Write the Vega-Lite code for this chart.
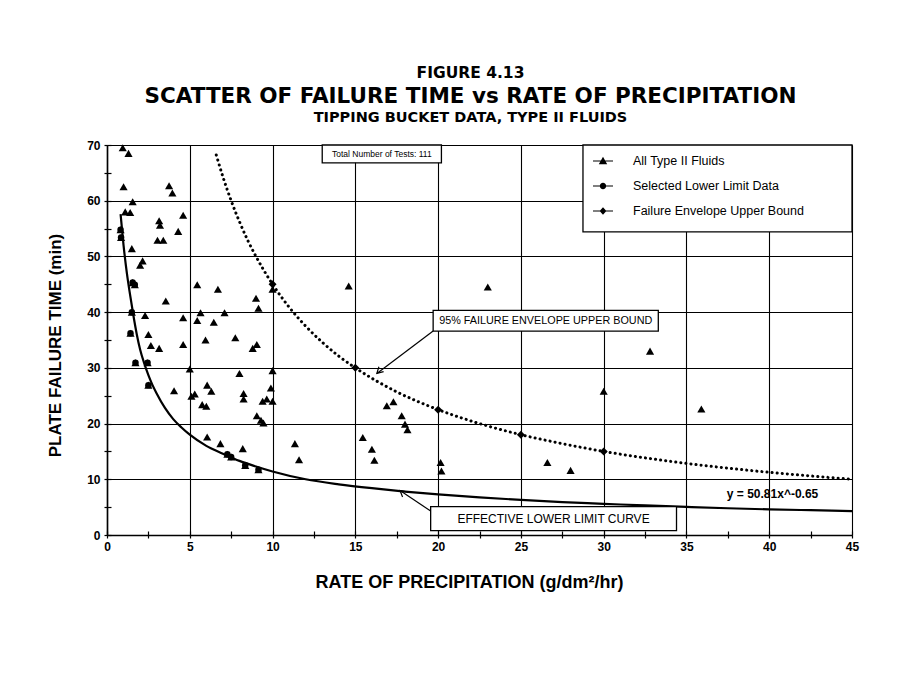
{
  "$schema": "https://vega.github.io/schema/vega-lite/v6.json",
  "width": 745,
  "height": 390,
  "autosize": "none",
  "padding": {"left": 107, "top": 145, "right": 53, "bottom": 161},
  "background": "white",
  "config": {"view": {"stroke": null}, "font": "Liberation Sans"},
  "title": {
    "text": "FIGURE 4.13",
    "subtitle": "SCATTER OF FAILURE TIME vs RATE OF PRECIPITATION",
    "anchor": "middle",
    "font": "DejaVu Sans",
    "fontSize": 15.5,
    "fontWeight": "bold",
    "color": "black",
    "subtitleFont": "DejaVu Sans",
    "subtitleFontSize": 21.5,
    "subtitleFontWeight": "bold",
    "subtitleColor": "black",
    "subtitlePadding": 4,
    "offset": 2,
    "dx": -9
  },
  "datasets": {
    "pts": [
      {"series": "All Type II Fluids", "x": 0.95, "y": 69.5},
      {"series": "All Type II Fluids", "x": 1.3, "y": 68.5},
      {"series": "All Type II Fluids", "x": 1.0, "y": 62.5},
      {"series": "All Type II Fluids", "x": 3.75, "y": 62.7},
      {"series": "All Type II Fluids", "x": 3.95, "y": 61.4},
      {"series": "All Type II Fluids", "x": 1.55, "y": 59.8},
      {"series": "All Type II Fluids", "x": 1.1, "y": 58.0},
      {"series": "All Type II Fluids", "x": 1.4, "y": 57.9},
      {"series": "All Type II Fluids", "x": 3.15, "y": 56.4},
      {"series": "All Type II Fluids", "x": 3.2, "y": 55.6},
      {"series": "All Type II Fluids", "x": 4.6, "y": 57.4},
      {"series": "All Type II Fluids", "x": 4.3, "y": 54.5},
      {"series": "All Type II Fluids", "x": 3.05, "y": 52.9},
      {"series": "All Type II Fluids", "x": 3.4, "y": 52.9},
      {"series": "All Type II Fluids", "x": 1.5, "y": 51.4},
      {"series": "All Type II Fluids", "x": 2.15, "y": 49.2},
      {"series": "All Type II Fluids", "x": 2.0, "y": 48.4},
      {"series": "All Type II Fluids", "x": 3.55, "y": 42.0},
      {"series": "All Type II Fluids", "x": 5.45, "y": 44.9},
      {"series": "All Type II Fluids", "x": 6.7, "y": 44.1},
      {"series": "All Type II Fluids", "x": 9.0, "y": 42.5},
      {"series": "All Type II Fluids", "x": 9.15, "y": 40.7},
      {"series": "All Type II Fluids", "x": 10.0, "y": 44.1},
      {"series": "All Type II Fluids", "x": 14.6, "y": 44.7},
      {"series": "All Type II Fluids", "x": 2.3, "y": 39.4},
      {"series": "All Type II Fluids", "x": 4.6, "y": 39.0},
      {"series": "All Type II Fluids", "x": 5.65, "y": 39.9},
      {"series": "All Type II Fluids", "x": 5.45, "y": 38.5},
      {"series": "All Type II Fluids", "x": 7.1, "y": 39.9},
      {"series": "All Type II Fluids", "x": 6.45, "y": 38.2},
      {"series": "All Type II Fluids", "x": 2.5, "y": 36.0},
      {"series": "All Type II Fluids", "x": 2.65, "y": 34.0},
      {"series": "All Type II Fluids", "x": 3.15, "y": 33.5},
      {"series": "All Type II Fluids", "x": 4.6, "y": 34.2},
      {"series": "All Type II Fluids", "x": 5.95, "y": 35.0},
      {"series": "All Type II Fluids", "x": 7.75, "y": 35.4},
      {"series": "All Type II Fluids", "x": 9.05, "y": 34.2},
      {"series": "All Type II Fluids", "x": 8.8, "y": 33.5},
      {"series": "All Type II Fluids", "x": 5.0, "y": 29.8},
      {"series": "All Type II Fluids", "x": 10.0, "y": 29.5},
      {"series": "All Type II Fluids", "x": 8.0, "y": 29.0},
      {"series": "All Type II Fluids", "x": 4.05, "y": 25.9},
      {"series": "All Type II Fluids", "x": 5.1, "y": 24.9},
      {"series": "All Type II Fluids", "x": 5.3, "y": 25.3},
      {"series": "All Type II Fluids", "x": 6.05, "y": 26.9},
      {"series": "All Type II Fluids", "x": 6.3, "y": 25.8},
      {"series": "All Type II Fluids", "x": 5.75, "y": 23.4},
      {"series": "All Type II Fluids", "x": 6.0, "y": 23.1},
      {"series": "All Type II Fluids", "x": 8.25, "y": 25.4},
      {"series": "All Type II Fluids", "x": 8.25, "y": 24.4},
      {"series": "All Type II Fluids", "x": 9.4, "y": 24.0},
      {"series": "All Type II Fluids", "x": 9.65, "y": 24.4},
      {"series": "All Type II Fluids", "x": 10.0, "y": 24.0},
      {"series": "All Type II Fluids", "x": 9.9, "y": 26.4},
      {"series": "All Type II Fluids", "x": 9.05, "y": 21.4},
      {"series": "All Type II Fluids", "x": 9.3, "y": 20.6},
      {"series": "All Type II Fluids", "x": 9.45, "y": 20.1},
      {"series": "All Type II Fluids", "x": 6.05, "y": 17.6},
      {"series": "All Type II Fluids", "x": 6.85, "y": 16.4},
      {"series": "All Type II Fluids", "x": 8.2, "y": 15.5},
      {"series": "All Type II Fluids", "x": 11.35, "y": 16.4},
      {"series": "All Type II Fluids", "x": 11.6, "y": 13.5},
      {"series": "All Type II Fluids", "x": 15.45, "y": 17.5},
      {"series": "All Type II Fluids", "x": 16.0, "y": 15.4},
      {"series": "All Type II Fluids", "x": 16.15, "y": 13.4},
      {"series": "All Type II Fluids", "x": 16.9, "y": 23.2},
      {"series": "All Type II Fluids", "x": 17.3, "y": 23.9},
      {"series": "All Type II Fluids", "x": 17.8, "y": 21.4},
      {"series": "All Type II Fluids", "x": 18.0, "y": 19.9},
      {"series": "All Type II Fluids", "x": 18.15, "y": 18.9},
      {"series": "All Type II Fluids", "x": 20.15, "y": 13.0},
      {"series": "All Type II Fluids", "x": 20.2, "y": 11.5},
      {"series": "All Type II Fluids", "x": 23.0, "y": 44.5},
      {"series": "All Type II Fluids", "x": 26.6, "y": 13.0},
      {"series": "All Type II Fluids", "x": 28.0, "y": 11.6},
      {"series": "All Type II Fluids", "x": 30.0, "y": 25.8},
      {"series": "All Type II Fluids", "x": 32.8, "y": 33.0},
      {"series": "All Type II Fluids", "x": 35.9, "y": 22.6},
      {"series": "All Type II Fluids", "x": 0.82, "y": 54.8},
      {"series": "All Type II Fluids", "x": 0.85, "y": 53.4},
      {"series": "All Type II Fluids", "x": 1.55, "y": 45.3},
      {"series": "All Type II Fluids", "x": 1.68, "y": 44.9},
      {"series": "All Type II Fluids", "x": 1.5, "y": 40.0},
      {"series": "All Type II Fluids", "x": 1.42, "y": 36.2},
      {"series": "All Type II Fluids", "x": 1.72, "y": 30.9},
      {"series": "All Type II Fluids", "x": 2.45, "y": 30.9},
      {"series": "All Type II Fluids", "x": 2.5, "y": 26.9},
      {"series": "All Type II Fluids", "x": 7.27, "y": 14.5},
      {"series": "All Type II Fluids", "x": 7.5, "y": 14.0},
      {"series": "All Type II Fluids", "x": 8.35, "y": 12.5},
      {"series": "All Type II Fluids", "x": 9.15, "y": 11.7},
      {"series": "Selected Lower Limit Data", "x": 0.82, "y": 54.8},
      {"series": "Selected Lower Limit Data", "x": 0.85, "y": 53.4},
      {"series": "Selected Lower Limit Data", "x": 1.55, "y": 45.3},
      {"series": "Selected Lower Limit Data", "x": 1.68, "y": 44.9},
      {"series": "Selected Lower Limit Data", "x": 1.5, "y": 40.0},
      {"series": "Selected Lower Limit Data", "x": 1.42, "y": 36.2},
      {"series": "Selected Lower Limit Data", "x": 1.72, "y": 30.9},
      {"series": "Selected Lower Limit Data", "x": 2.45, "y": 30.9},
      {"series": "Selected Lower Limit Data", "x": 2.5, "y": 26.9},
      {"series": "Selected Lower Limit Data", "x": 7.27, "y": 14.5},
      {"series": "Selected Lower Limit Data", "x": 7.5, "y": 14.0},
      {"series": "Selected Lower Limit Data", "x": 8.35, "y": 12.5},
      {"series": "Selected Lower Limit Data", "x": 9.15, "y": 11.7},
      {"series": "Failure Envelope Upper Bound", "x": 10, "y": 45},
      {"series": "Failure Envelope Upper Bound", "x": 15, "y": 30},
      {"series": "Failure Envelope Upper Bound", "x": 20, "y": 22.5},
      {"series": "Failure Envelope Upper Bound", "x": 25, "y": 18},
      {"series": "Failure Envelope Upper Bound", "x": 30, "y": 15}
    ]
  },
  "resolve": {"axis": {"x": "independent", "y": "independent"}},
  "layer": [
    {
      "data": {"values": [
        {"x": 6.6, "y": 68.2}, {"x": 7, "y": 64.3}, {"x": 7.5, "y": 60}, {"x": 8, "y": 56.25},
        {"x": 8.5, "y": 52.9}, {"x": 9, "y": 50}, {"x": 10, "y": 45}, {"x": 11, "y": 40.9},
        {"x": 12, "y": 37.5}, {"x": 13, "y": 34.6}, {"x": 14, "y": 32.1}, {"x": 15, "y": 30},
        {"x": 17.5, "y": 25.7}, {"x": 20, "y": 22.5}, {"x": 22.5, "y": 20}, {"x": 25, "y": 18},
        {"x": 27.5, "y": 16.4}, {"x": 30, "y": 15}, {"x": 32.5, "y": 13.85}, {"x": 35, "y": 12.85},
        {"x": 37.5, "y": 12}, {"x": 40, "y": 11.25}, {"x": 42.5, "y": 10.6}, {"x": 45, "y": 10}
      ]},
      "mark": {"type": "line", "color": "black", "strokeWidth": 3, "strokeCap": "round", "strokeDash": [0.1, 5], "interpolate": "monotone"},
      "encoding": {
        "x": {"field": "x", "type": "quantitative",
          "scale": {"domain": [0, 45], "nice": false, "zero": false},
          "axis": {
            "orient": "bottom",
            "values": [0, 2.5, 5, 7.5, 10, 12.5, 15, 17.5, 20, 22.5, 25, 27.5, 30, 32.5, 35, 37.5, 40, 42.5, 45],
            "format": "d",
            "labelExpr": "datum.value % 5 === 0 ? datum.label : ''",
            "labelFlush": false, "labelOverlap": false,
            "grid": true, "gridColor": "black", "gridWidth": 1.1,
            "gridOpacity": {"condition": {"test": "datum.value % 5 === 0", "value": 1}, "value": 0},
            "domainColor": "black", "domainWidth": 1.6,
            "tickColor": "black", "tickSize": 3, "tickWidth": 1.2,
            "labelFont": "Liberation Sans", "labelFontSize": 12, "labelFontWeight": "bold", "labelColor": "black", "labelPadding": 3,
            "title": "RATE OF PRECIPITATION (g/dm²/hr)",
            "titleFont": "Liberation Sans", "titleFontSize": 18, "titleFontWeight": "bold", "titleColor": "black",
            "titleBaseline": "middle", "titleX": 362, "titleY": 47
          }
        },
        "y": {"field": "y", "type": "quantitative",
          "scale": {"domain": [0, 70], "nice": false, "zero": false},
          "axis": {
            "orient": "left",
            "values": [0, 5, 10, 15, 20, 25, 30, 35, 40, 45, 50, 55, 60, 65, 70],
            "format": "d",
            "labelExpr": "datum.value % 10 === 0 ? datum.label : ''",
            "labelFlush": false, "labelOverlap": false,
            "grid": true, "gridColor": "black", "gridWidth": 1.1,
            "gridOpacity": {"condition": {"test": "datum.value % 10 === 0", "value": 1}, "value": 0},
            "domainColor": "black", "domainWidth": 1.6,
            "tickColor": "black", "tickSize": 3, "tickWidth": 1.2,
            "labelFont": "Liberation Sans", "labelFontSize": 12, "labelFontWeight": "bold", "labelColor": "black", "labelPadding": 4,
            "title": "PLATE FAILURE TIME (min)",
            "titleFont": "Liberation Sans", "titleFontSize": 17, "titleFontWeight": "bold", "titleColor": "black",
            "titleAngle": 270, "titleBaseline": "middle", "titleX": -52, "titleY": 200
          }
        }
      }
    },
    {
      "data": {"values": [
        {"x": 0.82, "y": 57.6}, {"x": 1.0, "y": 52.0}, {"x": 1.2, "y": 47.0}, {"x": 1.4, "y": 43.0},
        {"x": 1.6, "y": 39.3}, {"x": 1.8, "y": 36.0}, {"x": 2.0, "y": 33.3}, {"x": 2.25, "y": 30.8},
        {"x": 2.5, "y": 28.7}, {"x": 2.75, "y": 26.9}, {"x": 3.0, "y": 25.4}, {"x": 3.5, "y": 22.8},
        {"x": 4.0, "y": 20.8}, {"x": 4.5, "y": 19.3}, {"x": 5, "y": 18.0}, {"x": 6, "y": 16.0},
        {"x": 7, "y": 14.6}, {"x": 8, "y": 13.3}, {"x": 9, "y": 12.3}, {"x": 10, "y": 11.4},
        {"x": 12, "y": 10.0}, {"x": 14, "y": 9.1}, {"x": 16, "y": 8.4}, {"x": 18, "y": 7.8},
        {"x": 20, "y": 7.3}, {"x": 22.5, "y": 6.75}, {"x": 25, "y": 6.3}, {"x": 27.5, "y": 5.9},
        {"x": 30, "y": 5.6}, {"x": 32.5, "y": 5.3}, {"x": 35, "y": 5.05}, {"x": 37.5, "y": 4.8},
        {"x": 40, "y": 4.6}, {"x": 42.5, "y": 4.45}, {"x": 45, "y": 4.3}
      ]},
      "mark": {"type": "line", "color": "black", "strokeWidth": 2.2, "interpolate": "monotone"},
      "encoding": {
        "x": {"field": "x", "type": "quantitative",
          "axis": {"orient": "bottom", "values": [0, 2.5, 5, 7.5, 10, 12.5, 15, 17.5, 20, 22.5, 25, 27.5, 30, 32.5, 35, 37.5, 40, 42.5, 45],
            "labels": false, "domain": false, "grid": false, "tickColor": "black", "tickSize": -4, "tickWidth": 1.2, "title": null}},
        "y": {"field": "y", "type": "quantitative",
          "axis": {"orient": "left", "values": [0, 5, 10, 15, 20, 25, 30, 35, 40, 45, 50, 55, 60, 65, 70],
            "labels": false, "domain": false, "grid": false, "tickColor": "black", "tickSize": -4, "tickWidth": 1.2, "title": null}}
      }
    },
    {
      "data": {"name": "pts"},
      "transform": [{"filter": {"field": "series", "equal": "All Type II Fluids"}}],
      "mark": {"type": "point", "shape": "triangle-up", "filled": true, "color": "black", "size": 66, "opacity": 1},
      "encoding": {
        "x": {"field": "x", "type": "quantitative",
          "axis": {"orient": "top", "labels": false, "ticks": false, "domain": false, "grid": false,
            "title": "TIPPING BUCKET DATA, TYPE II FLUIDS",
            "titleFont": "DejaVu Sans", "titleFontSize": 14.5, "titleFontWeight": "bold", "titleColor": "black",
            "titleBaseline": "middle", "titleX": 363, "titleY": -28}},
        "y": {"field": "y", "type": "quantitative", "axis": null}
      }
    },
    {
      "data": {"name": "pts"},
      "transform": [{"filter": {"field": "series", "equal": "Selected Lower Limit Data"}}],
      "mark": {"type": "point", "shape": "circle", "filled": true, "color": "black", "size": 42, "opacity": 1},
      "encoding": {
        "x": {"field": "x", "type": "quantitative", "axis": null},
        "y": {"field": "y", "type": "quantitative", "axis": null}
      }
    },
    {
      "data": {"name": "pts"},
      "transform": [{"filter": {"field": "series", "equal": "Failure Envelope Upper Bound"}}],
      "mark": {"type": "point", "shape": "diamond", "filled": true, "color": "black", "size": 64, "opacity": 1},
      "encoding": {
        "x": {"field": "x", "type": "quantitative", "axis": null},
        "y": {"field": "y", "type": "quantitative", "axis": null}
      }
    },
    {
      "data": {"values": [
        {"x1": 19.7, "x2": 33.3, "y1": 36.6, "y2": 40.3},
        {"x1": 19.55, "x2": 34.4, "y1": 0.8, "y2": 5.1},
        {"x1": 13.0, "x2": 20.2, "y1": 66.8, "y2": 70},
        {"x1": 28.75, "x2": 45, "y1": 54.4, "y2": 70}
      ]},
      "mark": {"type": "rect", "fill": "white", "stroke": "black", "strokeWidth": 1.3},
      "encoding": {
        "x": {"field": "x1", "type": "quantitative", "axis": null},
        "x2": {"field": "x2"},
        "y": {"field": "y1", "type": "quantitative", "axis": null},
        "y2": {"field": "y2"}
      }
    },
    {
      "data": {"values": [{"x": 26.5, "y": 38.45, "label": "95% FAILURE ENVELOPE UPPER BOUND"}]},
      "mark": {"type": "text", "font": "Liberation Sans", "fontSize": 10.8, "color": "black", "align": "center", "baseline": "middle"},
      "encoding": {
        "x": {"field": "x", "type": "quantitative", "axis": null},
        "y": {"field": "y", "type": "quantitative", "axis": null},
        "text": {"field": "label"}
      }
    },
    {
      "data": {"values": [{"x": 26.97, "y": 2.95, "label": "EFFECTIVE LOWER LIMIT CURVE"}]},
      "mark": {"type": "text", "font": "Liberation Sans", "fontSize": 12, "color": "black", "align": "center", "baseline": "middle"},
      "encoding": {
        "x": {"field": "x", "type": "quantitative", "axis": null},
        "y": {"field": "y", "type": "quantitative", "axis": null},
        "text": {"field": "label"}
      }
    },
    {
      "data": {"values": [{"x": 16.6, "y": 68.4, "label": "Total Number of Tests: 111"}]},
      "mark": {"type": "text", "font": "Liberation Sans", "fontSize": 8.5, "color": "black", "align": "center", "baseline": "middle"},
      "encoding": {
        "x": {"field": "x", "type": "quantitative", "axis": null},
        "y": {"field": "y", "type": "quantitative", "axis": null},
        "text": {"field": "label"}
      }
    },
    {
      "data": {"values": [{"x": 40.2, "y": 7.3, "label": "y = 50.81x^-0.65"}]},
      "mark": {"type": "text", "font": "Liberation Sans", "fontSize": 12, "fontWeight": "bold", "color": "black", "align": "center", "baseline": "middle"},
      "encoding": {
        "x": {"field": "x", "type": "quantitative", "axis": null},
        "y": {"field": "y", "type": "quantitative", "axis": null},
        "text": {"field": "label"}
      }
    },
    {
      "data": {"values": [
        {"x": 19.7, "y": 36.6, "x2": 16.3, "y2": 29.0},
        {"x": 19.55, "y": 4.3, "x2": 17.7, "y2": 8.0}
      ]},
      "mark": {"type": "rule", "color": "black", "strokeWidth": 1.2},
      "encoding": {
        "x": {"field": "x", "type": "quantitative", "axis": null},
        "y": {"field": "y", "type": "quantitative", "axis": null},
        "x2": {"field": "x2"},
        "y2": {"field": "y2"}
      }
    },
    {
      "data": {"values": [{"x": 16.3, "y": 29.0}]},
      "mark": {"type": "point", "shape": "M-0.55,1L0,0L0.55,1", "filled": false, "color": "black", "strokeWidth": 1.2, "size": 150, "angle": 226, "opacity": 1},
      "encoding": {
        "x": {"field": "x", "type": "quantitative", "axis": null},
        "y": {"field": "y", "type": "quantitative", "axis": null}
      }
    },
    {
      "data": {"values": [{"x": 17.7, "y": 8.0}]},
      "mark": {"type": "point", "shape": "M-0.55,1L0,0L0.55,1", "filled": false, "color": "black", "strokeWidth": 1.2, "size": 150, "angle": 310, "opacity": 1},
      "encoding": {
        "x": {"field": "x", "type": "quantitative", "axis": null},
        "y": {"field": "y", "type": "quantitative", "axis": null}
      }
    },
    {
      "data": {"name": "pts"},
      "transform": [{"filter": "datum.x < 0"}],
      "mark": {"type": "point", "filled": true, "color": "black", "opacity": 1, "size": 400},
      "encoding": {
        "x": {"field": "x", "type": "quantitative", "axis": null},
        "y": {"field": "y", "type": "quantitative", "axis": null},
        "shape": {"field": "series", "type": "nominal",
          "scale": {
            "domain": ["All Type II Fluids", "Selected Lower Limit Data", "Failure Envelope Upper Bound"],
            "range": [
              "M-1,-0.06H1V0.06H-1ZM0,-0.42L0.42,0.32L-0.42,0.32Z",
              "M-1,-0.06H1V0.06H-1ZM0.32,0A0.32,0.32,0,1,1,-0.32,0A0.32,0.32,0,1,1,0.32,0Z",
              "M-1,-0.06H1V0.06H-1ZM0,-0.38L0.34,0L0,0.38L-0.34,0Z"
            ]
          },
          "legend": {
            "title": null, "orient": "none", "legendX": 486, "legendY": 6,
            "symbolSize": 400, "symbolFillColor": "black", "symbolStrokeColor": "black", "symbolStrokeWidth": 0, "symbolOpacity": 1,
            "labelFont": "Liberation Sans", "labelFontSize": 12.5, "labelColor": "black", "labelOffset": 20, "labelLimit": 300,
            "rowPadding": 8, "padding": 0, "zindex": 2
          }
        }
      }
    }
  ]
}
